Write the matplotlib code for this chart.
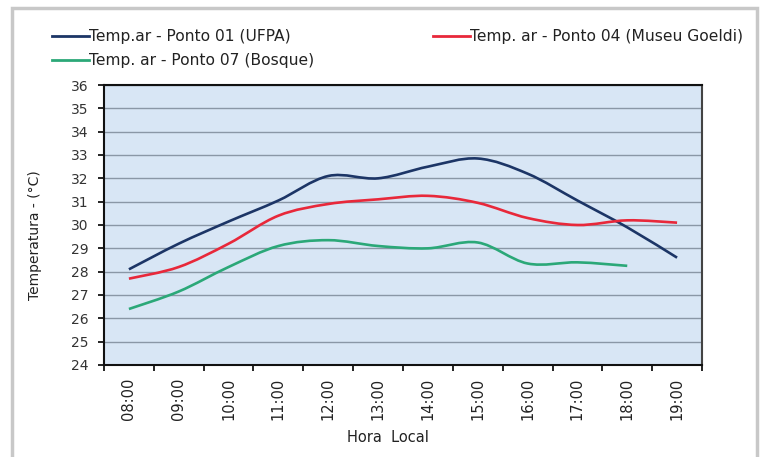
import numpy as np
import matplotlib
matplotlib.use('Agg')
from matplotlib import pyplot as plt
from matplotlib.path import Path
from matplotlib.patches import PathPatch, Rectangle
from matplotlib.lines import Line2D

plt.rcParams['font.family'] = ['DejaVu Sans']

horas = ['08:00', '09:00', '10:00', '11:00', '12:00', '13:00',
         '14:00', '15:00', '16:00', '17:00', '18:00', '19:00']
ufpa = [28.1, 29.2, 30.15, 31.05, 32.1, 32.0, 32.5, 32.85, 32.2, 31.05, 29.9, 28.6]
goeldi = [27.7, 28.2, 29.2, 30.4, 30.9, 31.1, 31.25, 30.95, 30.3, 30.0, 30.2, 30.1]
bosque = [26.4, 27.15, 28.2, 29.1, 29.35, 29.1, 29.0, 29.25, 28.35, 28.4, 28.25]

lab_ufpa = 'Temp.ar - Ponto 01 (UFPA)'
lab_goeldi = 'Temp. ar - Ponto 04 (Museu Goeldi)'
lab_bosque = 'Temp. ar - Ponto 07 (Bosque)'
c_ufpa, c_goeldi, c_bosque = '#1c3566', '#e8283a', '#2ba878'


def smooth_path(x, y, t=1/6):
    # Excel-like smoothed line: cubic Bezier through every point
    pts = np.column_stack([x, y]).astype(float)
    verts = [pts[0]]
    codes = [Path.MOVETO]
    n = len(pts)
    for i in range(n - 1):
        p0 = pts[i - 1] if i > 0 else pts[i]
        p1, p2 = pts[i], pts[i + 1]
        p3 = pts[i + 2] if i + 2 < n else pts[i + 1]
        c1 = p1 + (p2 - p0) * t
        c2 = p2 - (p3 - p1) * t
        verts += [c1, c2, p2]
        codes += [Path.CURVE4] * 3
    return Path(verts, codes)


fig = plt.figure(figsize=(7.64, 4.57), dpi=100)
fig.patches.append(Rectangle((12 / 764, -0.05), 745 / 764, 1 - 8 / 457 + 0.05,
                             transform=fig.transFigure, fill=False,
                             edgecolor='#c8c8c8', linewidth=2.5))

ax = fig.add_axes([104 / 764, 1 - 365 / 457, 598 / 764, 280 / 457])
ax.set_facecolor('#d8e6f5')
x = np.arange(len(horas))
for vals, color in [(ufpa, c_ufpa), (goeldi, c_goeldi), (bosque, c_bosque)]:
    ax.add_patch(PathPatch(smooth_path(x[:len(vals)], vals), fill=False,
                           edgecolor=color, linewidth=1.9))

ax.set_xlim(-0.5, len(horas) - 0.5)
ax.set_ylim(24, 36)
ax.set_yticks(range(24, 37))
ax.set_xticks(x)
ax.set_xticklabels(horas, rotation=90, fontsize=10.5, color='#222222')
ax.set_xticks(np.arange(-0.5, len(horas)), minor=True)
ax.tick_params(axis='x', which='major', length=0, pad=9)
ax.tick_params(axis='x', which='minor', length=4, width=1.2, direction='out')
ax.tick_params(axis='y', length=4, width=1.2, labelsize=10, pad=7, labelcolor='#333333')
ax.grid(axis='y', color='#8a97a6', linewidth=1)
ax.set_axisbelow(True)
for s in ax.spines.values():
    s.set_linewidth(1.5)
    s.set_color('#111111')
ax.spines['right'].set_color('#444444')
ax.set_xlabel('Hora  Local', fontsize=10.5, color='#222222')
ax.xaxis.set_label_coords((388 - 104) / 598, -(438 - 365) / 280, transform=ax.transAxes)
ax.xaxis.label.set_va('center')
ax.set_ylabel('Temperatura - (°C)', fontsize=10, color='#222222')
ax.yaxis.set_label_coords(-(104 - 35) / 598, (365 - 235) / 280, transform=ax.transAxes)
ax.yaxis.label.set_va('center')

leg_kw = dict(loc='upper left', frameon=False, fontsize=11.2, handlelength=2.35,
              handletextpad=0.0, labelspacing=0.6, borderpad=0, borderaxespad=0)
leg1 = fig.legend([Line2D([], [], color=c_ufpa, linewidth=2),
                   Line2D([], [], color=c_bosque, linewidth=2)],
                  [lab_ufpa, lab_bosque],
                  bbox_to_anchor=(52 / 764, 1 - 29 / 457), **leg_kw)
leg2 = fig.legend([Line2D([], [], color=c_goeldi, linewidth=2)], [lab_goeldi],
                  bbox_to_anchor=(433 / 764, 1 - 29 / 457), **leg_kw)
for leg in (leg1, leg2):
    for t in leg.get_texts():
        t.set_color('#222222')

fig.savefig('out.png', dpi=100)
